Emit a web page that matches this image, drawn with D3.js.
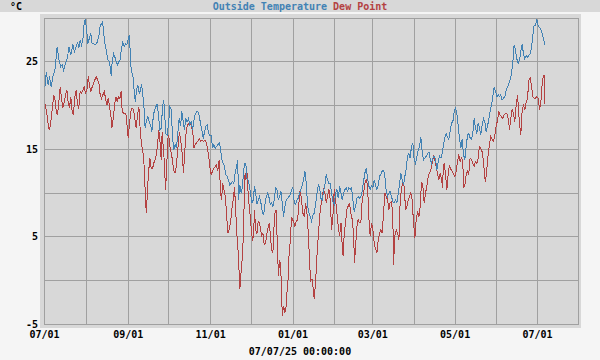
<!DOCTYPE html>
<html><head><meta charset="utf-8">
<script src="https://cdn.jsdelivr.net/npm/d3@7"></script>
<style>
html,body{margin:0;padding:0;background:#f5f5f5;}
svg{display:block;}
text{font-family:"DejaVu Sans Mono",monospace;font-weight:bold;font-size:10px;}
</style></head><body>
<svg id="chart" width="600" height="360"></svg>
<script>
// ---- data ----
const startDate = "2024-07-01";
const endDate = "2025-08-01";
const unitLabel = "°C";
const seriesNames = ["Outside Temperature", "Dew Point"];
const footerLabel = "07/07/25 00:00:00";
const yGridValues = [-5, 0, 5, 10, 15, 20, 25, 30];
const yTickLabels = [-5, 5, 15, 25];

const outsideDays = [0.3,1.3,2.7,3.7,5.0,6.2,7.7,9.4,10.6,11.9,13.1,14.1,15.6,17.1,18.0,19.5,21.0,22.2,23.5,24.5,25.4,26.4,27.4,28.4,29.1,30.1,31.1,32.1,33.1,34.3,35.3,36.5,37.8,39.0,40.3,41.2,42.2,43.0,44.0,44.9,45.9,46.9,47.9,48.9,49.4,50.1,51.1,52.1,53.1,54.1,55.1,56.0,57.0,58.0,59.0,60.0,61.0,62.0,62.7,63.5,64.0,64.9,65.7,66.4,67.2,68.1,69.1,70.1,71.1,71.8,72.8,
73.5,74.5,75.5,76.5,77.5,78.5,79.5,80.4,81.4,82.4,83.4,84.4,85.4,86.4,87.4,88.3,88.8,89.8,90.8,91.8,92.8,93.8,94.8,95.7,96.7,97.7,98.7,99.7,100.7,101.7,102.7,103.6,104.6,105.6,106.6,107.6,108.6,109.6,110.6,111.5,112.5,113.5,114.5,115.5,116.5,117.5,118.5,119.4,120.4,121.4,122.4,123.4,124.4,125.4,126.4,127.3,128.3,129.3,130.3,131.3,132.3,133.3,134.2,135.2,136.2,137.2,138.2,139.2,140.2,141.2,142.1,143.1,143.6,144.6,145.6,146.6,
147.4,148.4,149.1,149.9,150.6,151.3,152.1,152.8,153.6,154.5,155.5,156.3,157.3,158.2,159.2,160.2,161.2,162.2,163.2,164.2,165.2,166.1,167.1,168.1,169.1,170.1,171.1,172.1,173.1,174.0,175.0,176.0,177.0,178.0,179.0,180.0,181.0,181.9,182.9,183.9,184.9,185.9,186.9,187.9,188.8,189.8,190.8,191.8,192.8,193.8,194.8,195.8,196.7,197.7,198.7,199.7,200.7,201.7,202.7,203.7,204.6,205.6,206.6,207.6,208.6,209.6,210.6,211.6,212.5,213.5,214.5,215.5,216.5,217.5,218.5,219.5,220.4,
221.4,222.4,223.4,224.3,225.3,226.3,227.3,228.3,229.3,230.3,231.3,232.2,233.2,234.2,235.2,236.2,237.2,238.2,239.2,240.1,241.1,242.1,243.1,244.1,245.1,246.1,247.1,248.0,249.0,250.0,251.0,252.0,253.0,254.0,255.0,255.9,256.9,257.9,258.9,259.9,260.9,261.9,262.8,263.8,264.8,265.8,266.8,267.8,268.8,269.8,270.7,271.7,272.7,273.7,274.7,275.7,276.7,277.7,278.6,279.6,280.6,281.6,282.6,283.6,284.6,285.6,286.5,287.5,288.5,289.5,290.5,291.5,292.5,293.5,294.4,
295.4,296.4,297.4,298.3,299.3,300.3,301.3,302.3,303.3,304.3,305.3,306.2,307.2,308.2,309.2,310.2,311.2,312.2,313.2,314.1,315.1,316.1,317.1,318.1,319.1,320.1,321.1,322.0,323.0,324.0,325.0,326.0,327.0,328.0,329.0,329.9,330.9,331.9,332.9,333.9,334.9,335.9,336.9,337.8,338.8,339.8,340.8,341.8,342.8,343.8,344.7,345.7,346.7,347.7,348.7,349.7,350.7,351.7,352.6,353.6,354.6,355.6,356.6,357.6,358.6,359.6,360.5,361.5,362.5,363.5,364.5,365.5,366.5,367.5,368.4,369.4,370.4];
const outsideTemp = [22.1,23.8,22.3,23.3,22.1,23.3,24.0,26.7,25.3,24.4,24.6,24.0,24.8,25.5,26.7,25.7,27.0,26.1,26.7,27.2,26.5,27.4,26.9,27.4,29.1,29.8,28.8,27.0,27.6,28.2,27.0,27.0,26.9,27.2,28.0,29.1,29.3,29.5,28.0,26.9,26.1,25.2,25.0,24.2,23.3,25.0,25.9,25.5,25.0,24.6,25.0,25.2,26.5,27.2,26.7,27.0,26.9,27.6,28.0,26.1,24.4,23.6,23.1,21.6,20.4,21.7,22.3,21.4,21.7,22.4,21.2,
20.2,17.4,18.3,18.7,18.1,17.8,17.0,18.5,19.5,19.8,20.2,18.9,17.2,17.4,19.8,20.6,19.5,16.8,16.6,17.8,19.8,19.5,16.4,14.9,15.5,15.1,16.8,18.5,17.6,19.3,18.1,17.2,18.5,18.1,18.5,17.8,18.1,17.2,18.3,18.9,19.3,19.3,18.9,17.9,17.2,16.2,17.0,17.6,17.8,16.8,16.6,16.6,15.1,15.5,15.1,15.3,15.5,15.7,15.1,13.8,13.4,13.0,12.1,11.9,11.5,10.9,11.1,11.3,11.1,12.3,13.0,13.8,9.2,10.9,10.0,10.8,
12.6,13.4,13.2,11.7,11.5,11.1,10.4,9.6,8.9,9.2,10.8,10.0,8.7,9.2,9.6,8.9,7.9,7.5,8.7,9.6,10.0,9.6,8.7,8.9,8.5,9.2,10.6,10.4,9.2,9.6,10.2,8.9,7.3,8.5,9.2,9.4,9.6,9.8,10.4,10.6,8.9,8.7,9.2,9.4,10.0,10.4,10.9,11.5,12.5,11.1,8.5,7.7,7.3,6.8,7.5,7.7,8.7,10.0,10.9,10.6,9.4,9.2,10.2,10.9,12.1,11.5,11.1,11.1,10.0,9.0,8.7,10.0,10.4,9.4,10.8,10.0,9.2,
10.0,10.4,10.6,10.2,10.6,10.4,10.6,9.2,7.9,8.5,9.4,9.6,9.4,9.6,10.2,11.3,12.3,12.8,11.7,10.8,10.4,10.8,10.6,11.5,10.9,10.4,10.9,11.9,12.1,12.5,12.6,11.9,10.2,9.6,10.0,10.2,9.6,9.0,8.9,9.2,8.9,10.0,10.9,12.3,11.5,10.9,11.9,12.8,14.2,14.5,14.0,15.3,15.7,13.8,13.4,14.2,14.9,15.3,16.4,14.7,13.8,14.0,14.2,14.5,14.7,13.8,13.4,14.0,14.2,13.8,12.6,13.6,14.2,14.0,14.5,
15.5,16.3,16.8,16.4,16.1,17.0,18.0,18.1,19.3,19.7,19.1,17.8,16.3,15.1,16.1,14.4,13.8,15.3,16.6,16.8,16.3,16.1,16.8,18.5,17.4,16.8,18.0,17.4,16.6,17.8,18.5,18.1,17.0,17.6,18.5,19.3,20.0,21.0,22.1,21.6,21.0,21.2,21.0,21.2,20.6,20.8,21.0,21.7,22.1,22.5,22.9,23.6,24.8,26.9,26.3,25.3,24.8,25.2,26.1,27.0,25.9,25.3,25.7,25.5,25.7,25.9,26.5,28.0,29.1,29.1,29.8,29.1,28.9,28.6,28.2,27.6,26.9];

const dewDays = [0.3,1.5,2.5,3.5,4.5,5.2,6.2,6.7,7.7,8.7,9.6,10.6,11.6,12.6,13.6,14.6,15.6,16.6,17.5,18.5,19.5,20.5,21.5,22.2,23.5,24.5,25.4,26.4,27.4,28.4,29.4,30.4,31.4,32.4,33.3,34.3,35.3,36.3,37.3,38.3,39.3,40.3,41.2,42.2,43.2,44.2,45.2,46.2,47.2,48.2,49.1,49.9,50.9,51.9,52.8,53.8,54.8,55.8,56.8,57.5,58.5,59.5,60.5,61.5,62.0,63.0,64.0,64.9,65.9,66.9,67.9,68.9,69.9,70.6,71.6,72.3,73.1,
74.0,74.8,75.5,76.2,77.2,78.0,79.0,80.0,80.9,81.9,82.9,83.9,84.6,85.6,86.4,87.1,87.8,88.6,89.6,90.3,91.3,92.0,93.0,94.0,95.0,96.0,97.0,98.0,99.0,99.9,100.9,101.9,102.9,103.9,104.9,105.9,106.9,107.8,108.8,109.8,110.6,111.5,112.5,113.5,114.5,115.5,116.5,117.5,118.5,119.4,120.4,121.4,122.4,123.4,124.4,125.4,126.4,127.3,128.3,129.3,130.3,131.0,132.0,132.8,133.8,134.7,135.7,136.7,137.7,138.7,139.7,140.7,141.4,142.4,143.4,144.1,144.6,145.4,146.3,147.1,
147.9,148.5,149.1,149.9,150.6,151.3,152.1,153.1,154.1,154.8,155.5,156.3,157.3,158.0,158.7,159.7,160.7,161.7,162.7,163.7,164.7,165.7,166.4,167.1,168.1,169.1,169.8,170.6,171.6,172.6,173.3,174.0,174.8,175.5,176.0,177.0,178.0,178.7,179.5,180.5,181.2,181.9,182.9,183.9,184.7,185.4,186.4,187.4,188.4,189.3,190.3,191.3,192.3,193.3,194.3,195.3,196.3,197.0,198.0,199.0,199.7,200.7,201.7,202.7,203.7,204.6,205.6,206.6,207.6,208.6,209.6,210.6,211.6,212.5,213.5,214.5,215.5,216.5,217.5,218.5,219.5,220.4,221.1,
221.9,222.9,223.9,224.8,225.8,226.8,227.8,228.8,229.5,230.3,231.3,232.2,233.2,234.2,235.2,236.2,237.2,238.2,239.2,240.1,241.1,242.1,243.1,244.1,245.1,246.1,247.1,248.0,249.0,250.0,251.0,252.0,253.0,254.0,255.0,255.9,256.9,257.9,258.4,259.4,260.4,261.4,262.4,263.3,264.3,265.3,266.3,267.3,268.3,269.3,270.3,271.2,272.2,273.2,274.2,275.2,276.2,277.2,278.2,279.1,280.1,281.1,282.1,283.1,284.1,285.1,286.0,287.0,288.0,289.0,290.0,291.0,292.0,293.0,293.9,294.9,
295.1,295.9,296.9,297.9,298.8,299.8,300.8,301.8,302.8,303.8,304.8,305.8,306.7,307.7,308.7,309.7,310.2,311.2,312.2,313.2,314.1,315.1,316.1,317.1,318.1,319.1,320.1,321.1,322.0,323.0,324.0,325.0,326.0,326.5,327.5,328.5,329.4,330.4,331.4,332.4,333.4,334.4,335.4,336.4,337.3,338.3,339.3,340.3,341.3,342.3,343.3,344.3,345.2,346.2,347.2,348.2,349.2,350.2,351.2,352.2,352.6,353.6,354.6,355.6,356.6,357.6,358.6,359.6,360.5,361.5,362.5,363.5,364.5,365.5,366.5,367.5,368.4,369.2,369.9,370.4];
const dewTemp = [20.2,19.3,18.1,17.2,17.8,18.9,20.2,21.2,20.8,19.3,18.9,20.4,22.1,20.8,19.7,20.4,21.2,21.7,20.4,19.7,21.0,19.3,18.9,20.8,21.7,20.0,19.7,21.6,21.4,21.7,22.1,21.4,21.7,23.3,22.3,21.6,22.1,22.5,22.9,23.3,22.9,22.5,21.2,20.8,21.2,21.6,20.8,20.0,20.8,19.8,18.9,17.4,18.5,20.0,21.0,20.4,21.0,20.8,21.6,19.3,19.1,19.1,18.9,17.0,16.3,18.1,19.3,19.7,19.5,18.5,17.4,18.9,19.8,17.8,15.9,15.1,14.4,
12.6,8.9,7.7,10.4,12.6,14.0,12.8,12.8,13.4,13.8,14.5,15.9,17.2,15.7,13.8,17.0,15.5,13.8,10.4,12.3,16.2,16.6,15.1,14.5,13.4,12.4,12.3,13.8,15.5,17.0,15.9,14.5,12.3,14.9,17.0,17.8,17.9,18.1,17.6,17.0,15.1,15.5,15.7,15.9,16.2,15.9,16.0,15.9,16.0,15.9,15.3,14.4,13.0,12.1,12.5,12.8,13.0,13.2,12.5,13.8,10.2,9.2,11.1,10.4,9.6,7.9,5.4,5.8,6.6,8.1,9.2,10.7,8.5,5.4,3.2,0.9,-1.0,0.7,2.4,4.7,
9.3,12.3,11.5,12.3,10.4,8.9,7.7,5.8,4.5,5.4,8.1,5.8,5.4,6.6,6.8,6.2,5.1,5.4,4.1,4.3,5.4,6.2,6.6,5.4,3.5,3.2,5.8,7.7,8.1,2.8,0.5,2.4,1.8,-1.0,-4.0,-2.9,-3.6,-3.3,-1.4,0.5,3.5,4.3,7.3,6.9,6.6,6.2,6.8,6.9,8.9,10.4,9.2,7.7,7.3,8.9,7.7,5.4,2.0,0.0,0.2,-1.0,-2.1,-0.2,2.8,5.1,7.3,8.5,9.6,10.4,10.0,8.9,9.6,10.4,9.2,5.8,7.3,10.4,9.2,7.7,6.2,5.1,6.6,4.0,2.8,
5.4,6.6,8.1,8.5,8.9,7.7,7.0,5.4,2.0,3.9,6.2,7.0,6.6,6.6,9.2,10.0,11.1,11.5,10.8,7.3,5.1,6.6,5.8,4.3,3.6,3.2,4.7,5.4,5.8,5.4,7.7,10.0,9.6,9.2,8.1,8.9,9.0,7.3,1.8,5.1,5.8,5.4,4.7,8.9,10.6,11.1,10.8,8.1,8.5,9.2,9.6,10.0,9.2,6.6,4.9,7.0,7.9,7.3,8.5,11.3,10.8,8.9,10.0,10.8,11.9,12.3,12.6,13.4,14.2,13.8,13.0,12.1,11.5,12.3,11.5,10.6,
12.5,13.4,12.1,10.4,12.1,13.2,12.7,12.5,12.1,11.9,12.5,13.6,14.4,13.6,14.0,13.6,10.6,10.9,12.1,12.5,12.1,14.0,13.8,13.4,13.0,13.6,13.4,14.0,15.3,15.1,14.7,13.6,11.7,11.3,12.8,14.4,15.5,16.4,16.1,15.9,16.6,17.6,18.3,19.3,18.9,18.7,18.5,18.9,19.1,19.1,18.5,17.2,18.5,19.5,19.1,18.1,20.0,21.2,18.9,17.2,16.6,19.3,20.0,19.5,20.4,20.8,22.9,23.1,22.3,21.0,20.8,20.8,21.0,20.8,19.5,20.4,22.3,23.3,23.4,20.2];

// ---- drawing ----
const W = 600, H = 360;
const DAY = 86400000;
const t0 = new Date(startDate + "T00:00:00Z");
const t1 = new Date(endDate + "T00:00:00Z");
const toDate = d => new Date(t0.getTime() + d * DAY);

const plot = {left: 44.5, right: 578.5, top: 18.5, bottom: 324.5};
const x = d3.scaleUtc().domain([t0, t1]).range([44.5, 44.5 + 396 * 1.3507]);
const y = d3.scaleLinear().domain([-5, 30]).range([324.5, 17.7]);
const snap = v => Math.round(v - 0.5) + 0.5;

const svg = d3.select("#chart");
svg.append("rect").attr("x", 0).attr("y", 0).attr("width", W).attr("height", H).attr("fill", "#f5f5f5");
svg.append("rect").attr("x", 0).attr("y", 0).attr("width", W).attr("height", 12).attr("fill", "#d8d8d8");
svg.append("rect").attr("x", 40).attr("y", 14).attr("width", 541).attr("height", 314).attr("fill", "#d8d8d8");

const grid = svg.append("g").attr("stroke", "#a0a0a0").attr("stroke-width", 1).attr("shape-rendering", "crispEdges");
// horizontal gridlines
grid.selectAll("line.h").data(yGridValues.filter(v => v > -5 && v < 30)).join("line")
  .attr("x1", plot.left).attr("x2", plot.right)
  .attr("y1", d => snap(y(d))).attr("y2", d => snap(y(d)));
// vertical gridlines (months)
const months = d3.utcMonth.range(t0, t1).filter(m => x(m) > plot.left + 1 && x(m) < plot.right - 1);
grid.selectAll("line.v").data(months).join("line")
  .attr("y1", plot.top).attr("y2", plot.bottom)
  .attr("x1", d => snap(x(d))).attr("x2", d => snap(x(d)));
grid.append("rect").attr("x", plot.left).attr("y", plot.top)
  .attr("width", plot.right - plot.left).attr("height", plot.bottom - plot.top).attr("fill", "none");

// lines
svg.append("clipPath").attr("id", "clip").append("rect")
  .attr("x", plot.left).attr("y", plot.top).attr("width", plot.right - plot.left).attr("height", plot.bottom - plot.top);
const line = d3.line().x(d => x(d[0])).y(d => y(d[1]));
const series = [
  {days: dewDays, vals: dewTemp, color: "#b44242"},
  {days: outsideDays, vals: outsideTemp, color: "#4282b4"}
];
series.forEach(s => {
  const pts = s.days.map((d, i) => [toDate(d), s.vals[i]]);
  svg.append("path").attr("clip-path", "url(#clip)").attr("d", line(pts))
    .attr("fill", "none").attr("stroke", s.color).attr("stroke-width", 1)
    .attr("shape-rendering", "crispEdges");
});

// y labels
svg.append("g").selectAll("text").data(yTickLabels).join("text")
  .attr("x", 38).attr("y", d => y(d) + 3.5).attr("text-anchor", "end").attr("fill", "#000")
  .text(d => d);

// x labels every two months
const fmt = d3.utcFormat("%m/%d");
const labelMonths = d3.utcMonth.range(t0, t1).filter(m => m.getUTCMonth() % 2 === 0);
svg.append("g").selectAll("text").data(labelMonths).join("text")
  .attr("x", d => x(d)).attr("y", 338).attr("text-anchor", "middle").attr("fill", "#000")
  .text(d => fmt(d));

// unit label
svg.append("text").attr("x", 10).attr("y", 10).attr("fill", "#000").text(unitLabel);

// title
const title = svg.append("text").attr("x", 300).attr("y", 10).attr("text-anchor", "middle")
  .style("white-space", "pre");
title.append("tspan").attr("fill", "#4282b4").text(seriesNames[0]);
title.append("tspan").attr("fill", "#b44242").text(" " + seriesNames[1]);

// footer
svg.append("text").attr("x", 300).attr("y", 355).attr("text-anchor", "middle").attr("fill", "#000").text(footerLabel);
</script>
</body></html>
